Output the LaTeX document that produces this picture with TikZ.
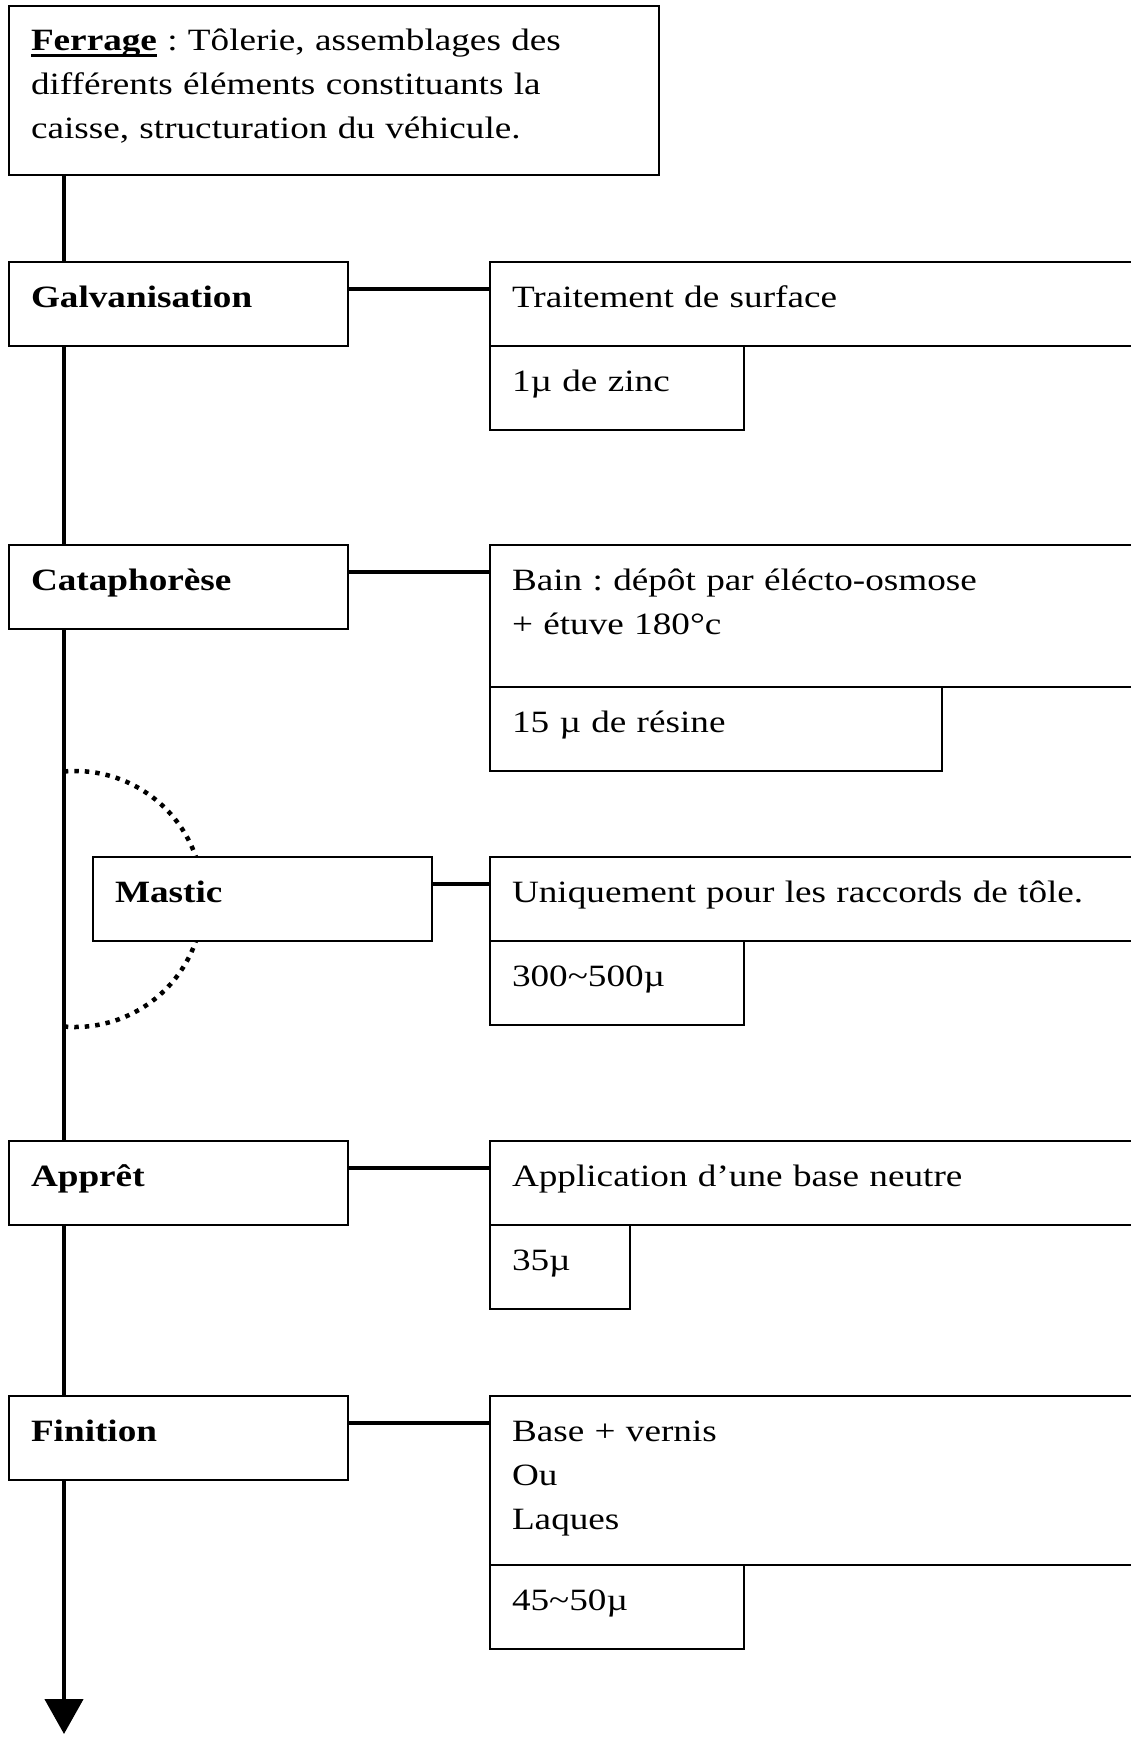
\documentclass[tikz,border=0pt]{standalone}
\usepackage{fontspec}
\setmainfont[FakeStretch=1.2]{Liberation Serif}
\usetikzlibrary{arrows.meta,backgrounds,positioning}
\frenchspacing

\newcommand{\souligne}[1]{{\setbox0\hbox{#1}\rlap{\rule[-6pt]{\wd0}{2.5pt}}\box0}}

\tikzset{
  cell/.style={draw, line width=1.8pt, fill=white, anchor=north west,
    outer sep=0pt, inner xsep=22pt, inner ysep=0pt, align=left,
    text height=45pt, text depth=39pt, font=\fontsize{31}{44}\selectfont},
  etape/.style={cell, text width=295pt, font=\fontsize{31}{44}\selectfont\bfseries},
  detail/.style={cell, text width=640pt},
  mesure/.style={cell, text width=#1},
  lien/.style={line width=4.5pt},
  axe/.style={line width=4.5pt, -{Triangle[length=35pt,width=38pt]}},
  pointille/.style={line width=4.5pt, dash pattern=on 4.5pt off 6pt},
}

\begin{document}
\begin{tikzpicture}[x=1pt,y=1pt]
    \useasboundingbox (0,0) rectangle (1131,-1737);

    \node[cell, text width=606pt, text depth=124pt] (ferrage) at (9,-6)
        {\souligne{\textbf{Ferrage}} : Tôlerie, assemblages des\\
         différents éléments constituants la\\
         caisse, structuration du véhicule.};

    \node[etape] (galv) at (9,-262) {Galvanisation};
    \node[detail] (surface) at (490,-262) {Traitement de surface};
    \node[mesure=210pt] (zinc) at (surface.south west) {1µ de zinc};

    \node[etape] (cata) at (9,-545) {Cataphorèse};
    \node[detail, text depth=97pt] (bain) at (490,-545)
        {Bain : dépôt par élécto-osmose\\+ étuve 180°c};
    \node[mesure=408pt] (resine) at (bain.south west) {15 µ de résine};

    \node[etape] (mastic) at (93,-857) {Mastic};
    \node[detail] (raccords) at (490,-857) {Uniquement pour les raccords de tôle.};
    \node[mesure=210pt] (joint) at (raccords.south west) {300\textasciitilde500µ};

    \node[etape] (appret) at (9,-1141) {Apprêt};
    \node[detail] (neutre) at (490,-1141) {Application d’une base neutre};
    \node[mesure=96pt] (sous) at (neutre.south west) {35µ};

    \node[etape] (finition) at (9,-1396) {Finition};
    \node[detail, text depth=124pt] (vernis) at (490,-1396)
        {Base + vernis\\Ou\\Laques};
    \node[mesure=210pt] (laque) at (vernis.south west) {45\textasciitilde50µ};

    % liaisons vers les details
    \foreach \a/\b in {galv/surface, cata/bain, mastic/raccords, appret/neutre, finition/vernis}
        \draw[lien] ([yshift=-27pt]\a.north east) -- ([yshift=-27pt]\b.north west);

    \coordinate (fin) at (64,-1734);
    \begin{scope}[on background layer]
        \fill[white] (0,0) rectangle (1131,-1737);
        \draw[axe] ([xshift=55pt]ferrage.south west) -- (fin);
        % mastic hors chaine
        \draw[pointille] (63.8,-771.5) arc[start angle=95, end angle=-95, radius=128pt];
    \end{scope}
\end{tikzpicture}
\end{document}
